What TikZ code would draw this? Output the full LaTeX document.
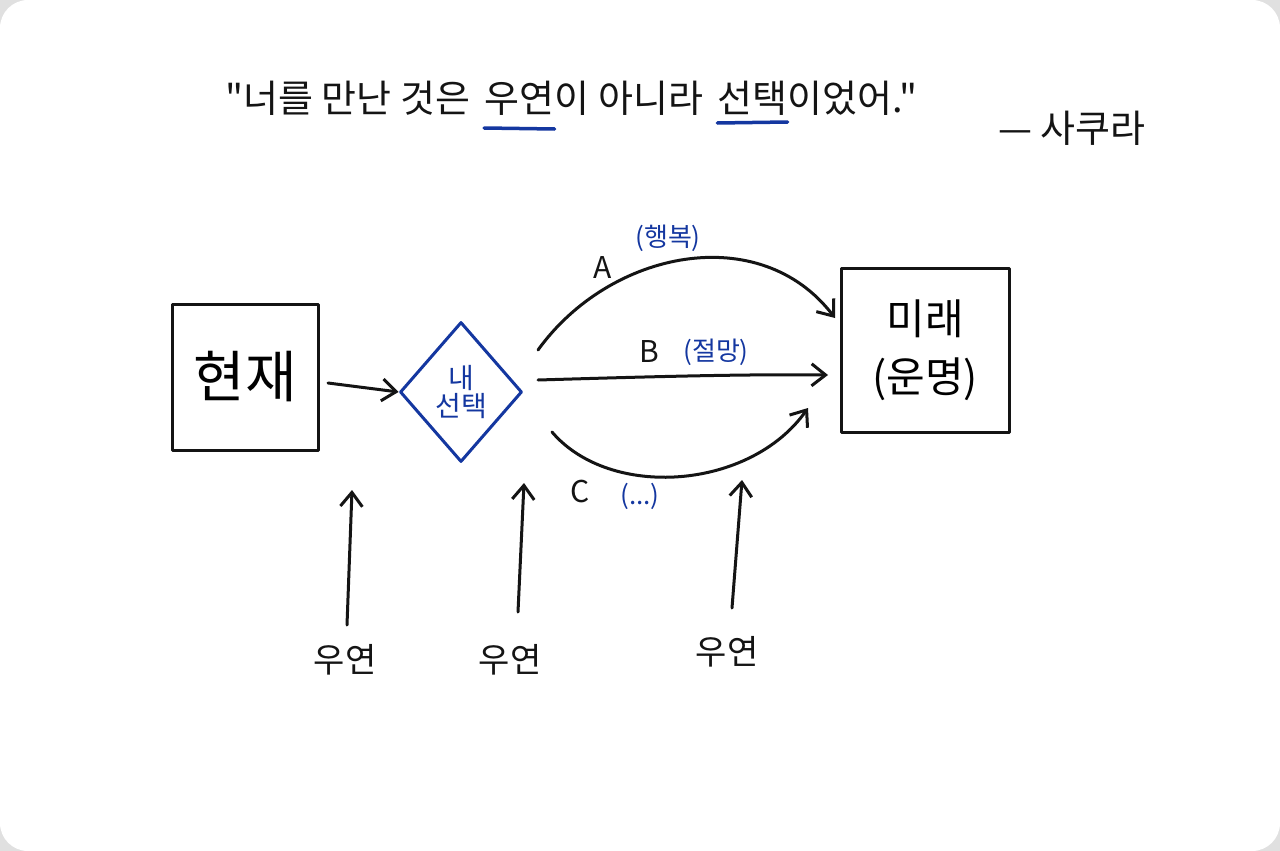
\documentclass[tikz,border=0pt]{standalone}
\usepackage{fontspec}
\setmainfont{Noto Sans CJK KR}
\newfontfamily\krfont{Noto Sans CJK KR}
\usetikzlibrary{arrows.meta,shapes.geometric}
\definecolor{ink}{RGB}{20,20,20}
\definecolor{pen}{RGB}{20,55,160}
\tikzset{
  stroke/.style={draw=ink,line width=3pt,line cap=round,line join=round},
  conn/.style={stroke,-{Straight Barb[length=14pt,width=22pt,line width=3pt]}},
  bluetxt/.style={text=pen,font=\krfont\fontsize{26}{30}\selectfont,inner sep=0pt},
  blacktxt/.style={text=ink,font=\krfont\fontsize{30}{34}\selectfont,inner sep=0pt},
  titletxt/.style={text=ink,font=\krfont\fontsize{38}{44}\selectfont,inner sep=0pt,anchor=base west},
  underl/.style={draw=pen,line width=3.5pt,line cap=round},
  boxnode/.style={stroke,minimum width=146pt,minimum height=146pt,inner sep=0pt},
}
\begin{document}
\begin{tikzpicture}[x=1pt,y=-1pt]
\useasboundingbox (0,0) rectangle (1280,851);
\fill[black!12] (0,0) rectangle (1280,851);
\fill[white,rounded corners=28pt] (0,0) rectangle (1280,851);

% title
\node[titletxt] (t1) at (225,112) {"너를 만난 것은};
\node[titletxt] (t2) at ([xshift=14pt]t1.base east) {우연};
\node[titletxt] (t3) at (t2.base east) {이 아니라};
\node[titletxt] (t4) at ([xshift=14pt]t3.base east) {선택};
\node[titletxt] (t5) at (t4.base east) {이었어."};
\node[blacktxt,font=\krfont\fontsize{38}{44}\selectfont,anchor=west] (author) at (998,128) {— 사쿠라};
\draw[underl] ([yshift=-16pt]t2.base west) -- ([yshift=-17pt]t2.base east);
\draw[underl] ([yshift=-11pt]t4.base west) -- ([yshift=-10pt]t4.base east);

% nodes
\node[boxnode,minimum width=146pt,minimum height=146pt,font=\krfont\fontsize{56}{62}\selectfont] (now) at (245,377) {현재};
\node[stroke,draw=pen,diamond,minimum width=122pt,minimum height=140pt,inner sep=0pt,
      align=center,text=pen,font=\krfont\fontsize{28}{32}\selectfont] (choice) at (461,392) {내\\[-4pt]선택};
\node[boxnode,minimum width=168pt,minimum height=164pt,align=center,
      font=\krfont\fontsize{42}{58}\selectfont] (future) at (925,350) {미래\\(운명)};

\coordinate (nowout) at (328,383);
\draw[conn] (nowout) -- (choice.west);

% paths
\coordinate (aS) at (538,350); \coordinate (aE) at (835,318);
\coordinate (bS) at (538,380); \coordinate (bE) at (828,375);
\coordinate (cS) at (552,432); \coordinate (cE) at (808,408);
\draw[conn] (aS) .. controls (610,250) and (760,220) .. (aE);
\draw[conn] (bS) .. controls (640,377) and (740,374) .. (bE);
\draw[conn] (cS) .. controls (610,500) and (750,490) .. (cE);

\node[blacktxt] (la) at (603,268) {A};
\node[bluetxt] (lah) at (668,238) {(행복)};
\node[blacktxt] (lb) at (649,352) {B};
\node[bluetxt] (lbh) at (716,352) {(절망)};
\node[blacktxt] (lc) at (580,492) {C};
\node[bluetxt] (lch) at (640,496) {(...)};

% chance arrows
\node[blacktxt,font=\krfont\fontsize{34}{40}\selectfont] (ch1) at (345,660) {우연};
\node[blacktxt,font=\krfont\fontsize{34}{40}\selectfont] (ch2) at (510,660) {우연};
\node[blacktxt,font=\krfont\fontsize{34}{40}\selectfont] (ch3) at (727,652) {우연};
\coordinate (tp1) at (352,490); \coordinate (tp2) at (524,483); \coordinate (tp3) at (742,480);
\coordinate (s1) at (347,625); \coordinate (s2) at (518,612); \coordinate (s3) at (732,608);
\draw[conn] (s1) -- (tp1);
\draw[conn] (s2) -- (tp2);
\draw[conn] (s3) -- (tp3);
\end{tikzpicture}
\end{document}
